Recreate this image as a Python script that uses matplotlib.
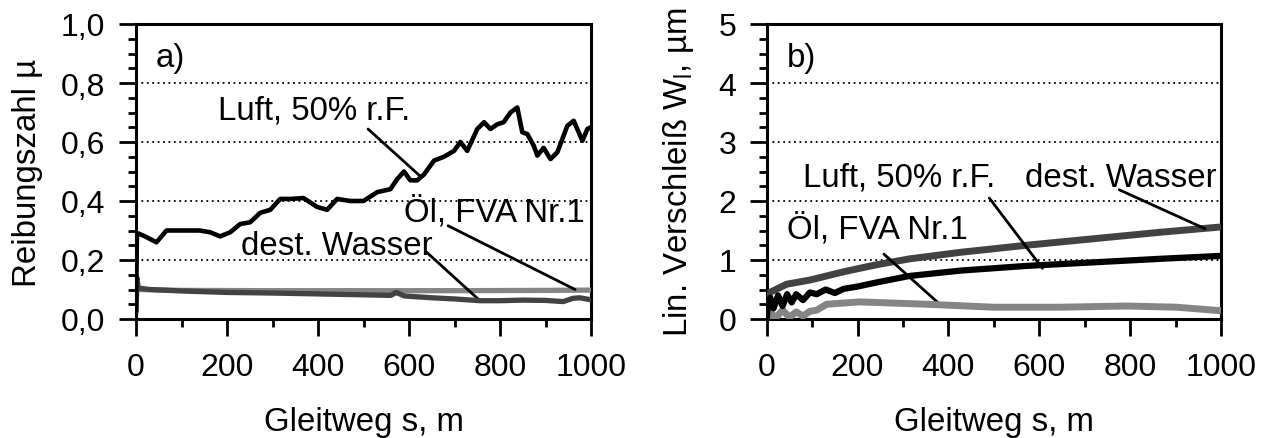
import matplotlib
matplotlib.use("Agg")
import matplotlib.pyplot as plt
from matplotlib.ticker import MultipleLocator, FuncFormatter

plt.rcParams['font.family'] = ['Liberation Sans', 'DejaVu Sans']

# ---------------- data panel a) ----------------
s_luft_a = [0, 2, 5, 20, 45, 67, 90, 119, 140, 163, 185, 207, 229, 251, 273, 295, 317, 339,
            368, 398, 420, 442, 471, 500, 530, 559, 574, 589, 603, 618, 633, 655, 677, 699,
            713, 728, 750, 765, 779, 794, 808, 823, 838, 849, 860, 874, 882, 896, 911, 926,
            948, 962, 981, 992, 1000]
mu_luft_a = [0.03, 0.29, 0.29, 0.28, 0.26, 0.30, 0.30, 0.30, 0.30, 0.294, 0.28, 0.294, 0.322,
             0.328, 0.36, 0.37, 0.407, 0.407, 0.41, 0.38, 0.37, 0.407, 0.40, 0.40, 0.43, 0.44,
             0.474, 0.50, 0.47, 0.47, 0.49, 0.537, 0.55, 0.57, 0.60, 0.57, 0.644, 0.667, 0.644,
             0.66, 0.667, 0.70, 0.717, 0.633, 0.627, 0.588, 0.554, 0.58, 0.542, 0.565, 0.655,
             0.672, 0.604, 0.644, 0.65]

s_wasser_a = [0, 2, 5, 30, 100, 200, 300, 400, 500, 560, 572, 590, 650, 700, 756, 800, 850,
              900, 939, 960, 975, 1000]
mu_wasser_a = [0.02, 0.14, 0.105, 0.10, 0.095, 0.09, 0.088, 0.085, 0.082, 0.08, 0.09, 0.078,
               0.072, 0.068, 0.062, 0.062, 0.064, 0.063, 0.059, 0.07, 0.072, 0.065]

s_oel_a = [0, 5, 100, 300, 500, 700, 900, 1000]
mu_oel_a = [0.10, 0.10, 0.097, 0.096, 0.096, 0.096, 0.097, 0.098]

# ---------------- data panel b) ----------------
s_wasser_b = [0, 3, 7, 20, 44, 95, 169, 242, 315, 426, 572, 719, 866, 1000]
w_wasser_b = [0, 0.35, 0.45, 0.50, 0.59, 0.66, 0.80, 0.92, 1.02, 1.13, 1.25, 1.36, 1.47, 1.56]

s_luft_b = [0, 3, 8, 15, 25, 35, 45, 55, 65, 80, 95, 110, 130, 150, 169, 200, 242, 315, 426,
            572, 719, 866, 1000]
w_luft_b = [0, 0.30, 0.36, 0.18, 0.40, 0.22, 0.42, 0.28, 0.42, 0.32, 0.45, 0.42, 0.50, 0.44,
            0.51, 0.55, 0.62, 0.73, 0.82, 0.90, 0.96, 1.02, 1.07]

s_oel_b = [0, 10, 20, 35, 50, 65, 80, 95, 110, 132, 205, 352, 499, 646, 792, 902, 1000]
w_oel_b = [0, 0.10, 0.02, 0.15, 0.03, 0.12, 0.05, 0.13, 0.15, 0.25, 0.29, 0.25, 0.20, 0.20,
           0.22, 0.20, 0.14]

xlabel = "Gleitweg s, m"
ylabel_a = "Reibungszahl µ"
ylabel_b = "Lin. Verschleiß W$_\\mathregular{l}$, µm"

C_LUFT = "#000000"
C_WASSER = "#424242"
C_OEL = "#858585"
FS = 23
FS_T = 23.8

W, H = 1261, 439
fig = plt.figure(figsize=(W / 100, H / 100), dpi=100)
ax_a = fig.add_axes([136 / W, (H - 320) / H, 455 / W, 295 / H])
ax_b = fig.add_axes([766.7 / W, (H - 320) / H, 454.3 / W, 295 / H])


def comma(v, pos, nd):
    return f"{v:.{nd}f}".replace(".", ",")


def style(ax, ymax, ymajor, yminor, nd):
    ax.set_xlim(0, 1000)
    ax.set_ylim(0, ymax)
    ax.xaxis.set_major_locator(MultipleLocator(200))
    ax.xaxis.set_minor_locator(MultipleLocator(100))
    ax.yaxis.set_major_locator(MultipleLocator(ymajor))
    ax.yaxis.set_minor_locator(MultipleLocator(yminor))
    ax.yaxis.set_major_formatter(FuncFormatter(lambda v, p: comma(v, p, nd)))
    ax.tick_params(axis='both', which='major', direction='out', length=12, width=2,
                   labelsize=FS)
    ax.tick_params(axis='both', which='minor', direction='out', length=6, width=2)
    ax.tick_params(axis='x', which='major', pad=12)
    ax.tick_params(axis='y', which='major', pad=10)
    for sp in ax.spines.values():
        sp.set_linewidth(2.2)
    ax.grid(axis='y', which='major', linestyle=(0, (1, 2)), color='black', linewidth=1.3)
    ax.set_axisbelow(True)
    ax.set_xlabel(xlabel, fontsize=FS_T, labelpad=17)


style(ax_a, 1.0, 0.2, 0.05, 1)
style(ax_b, 5, 1, 0.25, 0)

ax_a.set_ylabel(ylabel_a, fontsize=FS_T, labelpad=13)
ax_b.set_ylabel(ylabel_b, fontsize=FS_T, labelpad=16)

# panel a lines
ax_a.plot(s_oel_a, mu_oel_a, color=C_OEL, lw=3.8, solid_capstyle='butt', zorder=3)
ax_a.plot(s_wasser_a, mu_wasser_a, color=C_WASSER, lw=3.8, solid_capstyle='butt', zorder=4)
ax_a.plot(s_luft_a, mu_luft_a, color=C_LUFT, lw=3.3, zorder=5)

# panel b lines
ax_b.plot(s_wasser_b, w_wasser_b, color=C_WASSER, lw=5.0, solid_capstyle='butt', zorder=3)
ax_b.plot(s_oel_b, w_oel_b, color=C_OEL, lw=5.0, solid_capstyle='butt', zorder=4)
ax_b.plot(s_luft_b, w_luft_b, color=C_LUFT, lw=4.5, solid_capstyle='butt', zorder=5)

arrow = dict(arrowstyle='-', color='black', lw=2.0, shrinkA=0, shrinkB=0)

# panel a annotations
ax_a.text(0.044, 0.885, "a)", transform=ax_a.transAxes, fontsize=FS_T, va='center', ha='left')
ax_a.text(180, 0.71, "Luft, 50% r.F.", fontsize=FS_T, va='center', ha='left')
ax_a.annotate("", xy=(624, 0.485), xytext=(510, 0.644), arrowprops=arrow)
ax_a.text(590, 0.366, "Öl, FVA Nr.1", fontsize=FS_T, va='center', ha='left')
ax_a.annotate("", xy=(965, 0.10), xytext=(686, 0.316), arrowprops=arrow)
ax_a.text(230, 0.25, "dest. Wasser", fontsize=FS_T, va='center', ha='left')
ax_a.annotate("", xy=(756, 0.062), xytext=(639, 0.226), arrowprops=arrow)

# panel b annotations
ax_b.text(0.044, 0.885, "b)", transform=ax_b.transAxes, fontsize=FS_T, va='center', ha='left')
ax_b.text(80, 2.40, "Luft, 50% r.F.", fontsize=FS_T, va='center', ha='left')
ax_b.annotate("", xy=(607, 0.86), xytext=(490, 2.05), arrowprops=arrow)
ax_b.text(568, 2.40, "dest. Wasser", fontsize=FS_T, va='center', ha='left')
ax_b.annotate("", xy=(965, 1.53), xytext=(776, 2.19), arrowprops=arrow)
ax_b.text(45, 1.53, "Öl, FVA Nr.1", fontsize=FS_T, va='center', ha='left')
ax_b.annotate("", xy=(378, 0.27), xytext=(258, 1.10), arrowprops=arrow)

fig.savefig("out.png", dpi=100)
